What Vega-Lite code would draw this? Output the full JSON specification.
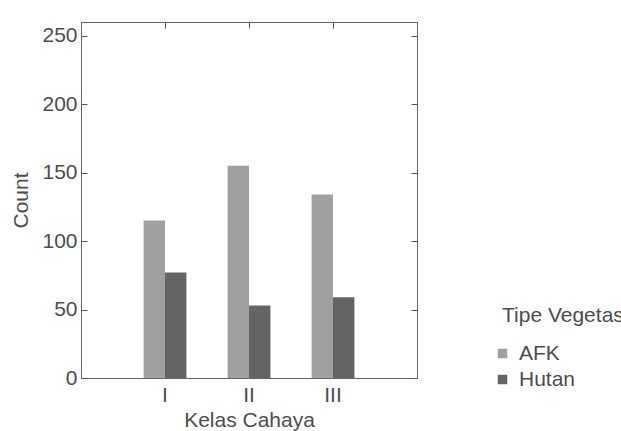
{
  "$schema": "https://vega.github.io/schema/vega-lite/v6.json",
  "width": 336,
  "height": 356,
  "autosize": "none",
  "padding": {"left": 81, "top": 22, "right": 204, "bottom": 53},
  "background": "white",
  "config": {
    "font": "Liberation Sans",
    "view": {"stroke": "#888888", "strokeWidth": 1},
    "axis": {
      "domainColor": "#666666",
      "tickColor": "#555555",
      "labelColor": "#4d4d4d",
      "titleColor": "#4d4d4d",
      "labelFont": "Liberation Sans",
      "titleFont": "Liberation Sans",
      "labelFontSize": 21,
      "titleFontSize": 21,
      "titleFontWeight": "normal",
      "grid": false,
      "tickSize": -6
    },
    "legend": {
      "labelFont": "Liberation Sans",
      "titleFont": "Liberation Sans",
      "labelFontSize": 21,
      "titleFontSize": 21,
      "titleFontWeight": "normal",
      "labelColor": "#4d4d4d",
      "titleColor": "#4d4d4d"
    }
  },
  "data": {
    "values": [
      {"kelas": "I", "tipe": "AFK", "count": 115},
      {"kelas": "I", "tipe": "Hutan", "count": 77},
      {"kelas": "II", "tipe": "AFK", "count": 155},
      {"kelas": "II", "tipe": "Hutan", "count": 53},
      {"kelas": "III", "tipe": "AFK", "count": 134},
      {"kelas": "III", "tipe": "Hutan", "count": 59}
    ]
  },
  "layer": [
    {
      "mark": {"type": "bar"},
      "encoding": {
        "x": {
          "field": "kelas",
          "type": "nominal",
          "sort": ["I", "II", "III"],
          "scale": {"paddingInner": 0.49, "paddingOuter": 0.745},
          "axis": {"orient": "bottom", "title": "Kelas Cahaya", "labelAngle": 0, "labelPadding": 12, "titlePadding": 4}
        },
        "xOffset": {"field": "tipe", "type": "nominal", "scale": {"paddingInner": 0}},
        "y": {
          "field": "count",
          "type": "quantitative",
          "scale": {"domain": [0, 250]},
          "axis": {"orient": "left", "title": "Count", "values": [0, 50, 100, 150, 200, 250], "labelPadding": 10, "titlePadding": 10}
        },
        "color": {
          "field": "tipe",
          "type": "nominal",
          "scale": {"domain": ["AFK", "Hutan"], "range": ["#a0a0a0", "#646464"]},
          "legend": {"title": "Tipe Vegetasi", "orient": "none", "legendX": 421, "legendY": 283, "symbolType": "square", "symbolSize": 90, "symbolStrokeWidth": 0, "symbolOffset": -10, "labelOffset": 6, "rowPadding": 4, "titlePadding": 17}
        }
      }
    },
    {
      "mark": {"type": "bar", "opacity": 0},
      "encoding": {
        "x": {
          "field": "kelas",
          "type": "nominal",
          "sort": ["I", "II", "III"],
          "axis": {"orient": "top", "title": null, "labels": false}
        },
        "y": {
          "field": "count",
          "type": "quantitative",
          "axis": {"orient": "right", "title": null, "labels": false, "values": [0, 50, 100, 150, 200, 250]}
        }
      }
    }
  ],
  "resolve": {"axis": {"x": "independent", "y": "independent"}}
}
